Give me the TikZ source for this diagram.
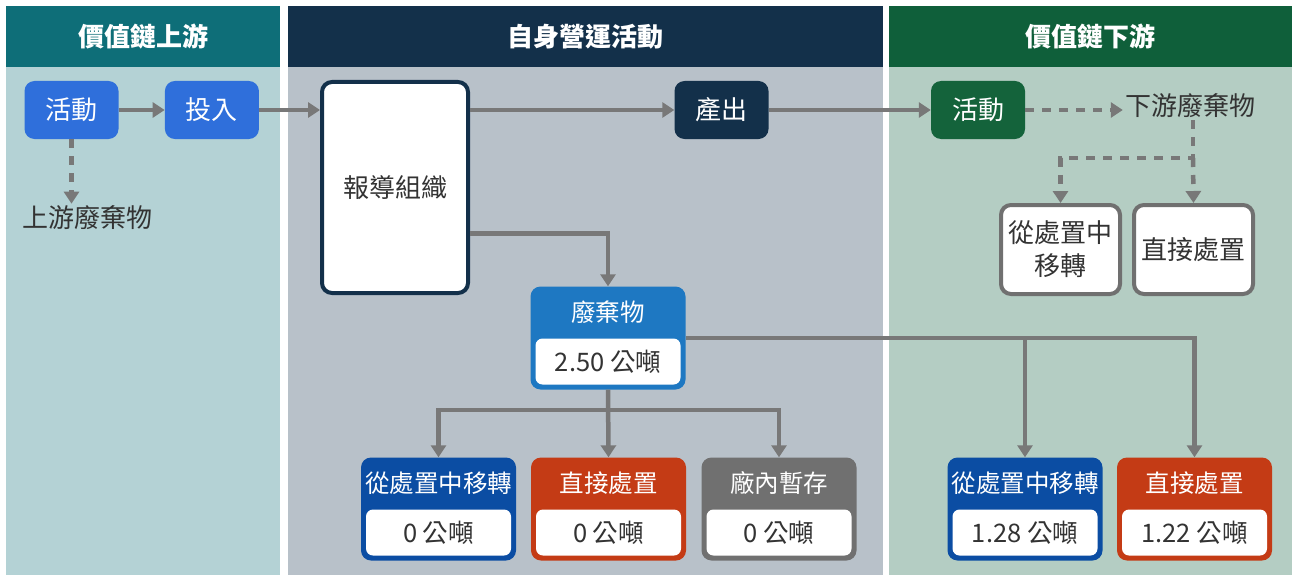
\documentclass[tikz,border=0pt]{standalone}
\usepackage{fontspec}
\setmainfont{Noto Sans CJK TC}
\usetikzlibrary{arrows.meta,positioning}
\definecolor{upHead}{HTML}{0E6E78}
\definecolor{upBody}{HTML}{B4D2D5}
\definecolor{ownHead}{HTML}{13304A}
\definecolor{ownBody}{HTML}{B8C1C9}
\definecolor{downHead}{HTML}{0F5F3A}
\definecolor{downBody}{HTML}{B4CDC3}
\definecolor{actBlue}{HTML}{2F6FDB}
\definecolor{actGreen}{HTML}{14633B}
\definecolor{wasteBlue}{HTML}{1E78C2}
\definecolor{transBlue}{HTML}{0B4DA3}
\definecolor{dispRed}{HTML}{C43B15}
\definecolor{storeGray}{HTML}{707070}
\definecolor{lineGray}{HTML}{787878}
\definecolor{txtGray}{HTML}{333333}
\newcommand{\tonbox}[5]{%
  \node[tally, fill=#3] (#1) at (#2) {};
  \node[tallyval, above=5pt of #1.south] (#1v) {#5};
  \node[tallyhead] (#1t) at ([yshift=-26pt]#1.north) {#4};
}

\begin{document}
\begin{tikzpicture}[x=1pt,y=-1pt,
      txt/.style={font=\fontsize{26}{33}\selectfont},
      head/.style={txt,text=white,font=\fontsize{26}{33}\selectfont\bfseries},
      box/.style={txt,rounded corners=10pt,minimum width=94pt,minimum height=58pt,text=white,inner sep=0pt},
      plain/.style={txt,text=txtGray,inner sep=2pt},
      wbox/.style={txt,rounded corners=10pt,fill=white,text=txtGray,line width=4pt,align=center,inner sep=0pt},
      tally/.style={rounded corners=10pt,minimum width=155pt,minimum height=103pt,inner sep=0pt},
      tallyval/.style={font=\fontsize{25.5}{30}\selectfont,fill=white,rounded corners=7pt,minimum width=145pt,minimum height=46pt,text=txtGray,inner sep=0pt},
      tallyhead/.style={font=\fontsize{24.5}{30}\selectfont,text=white,inner sep=0pt},
      post/.style={-{Triangle[width=15pt,length=12pt]},line width=4.5pt,draw=lineGray},
      dpost/.style={post,dash pattern=on 9pt off 8pt}
      ]
      \useasboundingbox (0,0) rectangle (1292,575);
      \fill[white] (0,0) rectangle (1292,575);

      % panels
      \fill[upBody] (6,67) rectangle (280,575);
      \fill[upHead] (6,6) rectangle (280,67);
      \fill[ownBody] (288,67) rectangle (883,575);
      \fill[ownHead] (288,6) rectangle (883,67);
      \fill[downBody] (889,67) rectangle (1292,575);
      \fill[downHead] (889,6) rectangle (1292,67);
      \node[head] (h1) at (143,37) {價值鏈上游};
      \node[head] (h2) at (585,37) {自身營運活動};
      \node[head] (h3) at (1090,37) {價值鏈下游};

      % upstream
      \node[box, fill=actBlue] (act1) at (71.5,110) {活動};
      \node[box, fill=actBlue, right=46pt of act1] (inp) {投入};
      \node[plain] (uwaste) at (87.5,218) {上游廢棄物};

      % own operations
      \node[wbox, draw=ownHead, minimum width=146pt, minimum height=211pt] (org) at (395,187.5) {報導組織};
      \node[box, fill=ownHead] (out) at (721.5,110) {產出};
      \tonbox{waste}{608,338}{wasteBlue}{廢棄物}{2.50 公噸}
      \tonbox{trans}{438.5,509}{transBlue}{從處置中移轉}{0 公噸}
      \tonbox{disp}{608.5,509}{dispRed}{直接處置}{0 公噸}
      \tonbox{store}{779,509}{storeGray}{廠內暫存}{0 公噸}

      % downstream
      \node[box, fill=actGreen] (act2) at (978,110) {活動};
      \node[plain] (dwaste) at (1190,106) {下游廢棄物};
      \node[wbox, draw=storeGray, minimum width=119pt, minimum height=89pt] (rtrans) at (1060.5,249.5) {從處置中\\移轉};
      \node[wbox, draw=storeGray, minimum width=119pt, minimum height=89pt, right=10pt of rtrans] (rdisp) {直接處置};
      \tonbox{dtrans}{1025,509}{transBlue}{從處置中移轉}{1.28 公噸}
      \tonbox{ddisp}{1194.5,509}{dispRed}{直接處置}{1.22 公噸}

      \coordinate (dsplit) at (1193,158);
      \coordinate (wsplit) at (608,410);

      \draw[post] (act1)--(inp);
      \draw[post] (inp.east)--(inp.east -| org.west);
      \draw[post] (org.east |- out.west)--(out.west);
      \draw[post] (out)--(act2);
      \draw[post] ([yshift=-46pt]org.east) -| (waste.north);

      \draw[dpost] (act1.south)--(act1.south |- uwaste.north);
      \draw[dpost] (act2.east)--(dwaste.west |- act2.east);
      \draw[dpost] (dwaste.south -| dsplit)--(dsplit) -| (rtrans.north);
      \draw[dpost] (dsplit)--(rdisp.north);

      \draw[post] (waste.south)--(disp.north);
      \draw[post] (wsplit) -| (trans.north);
      \draw[post] (wsplit) -| (store.north);
      \draw[post] (waste.east) -| (ddisp.north);
      \draw[post] (waste.east -| dtrans.north)--(dtrans.north);
    \end{tikzpicture}
\end{document}
